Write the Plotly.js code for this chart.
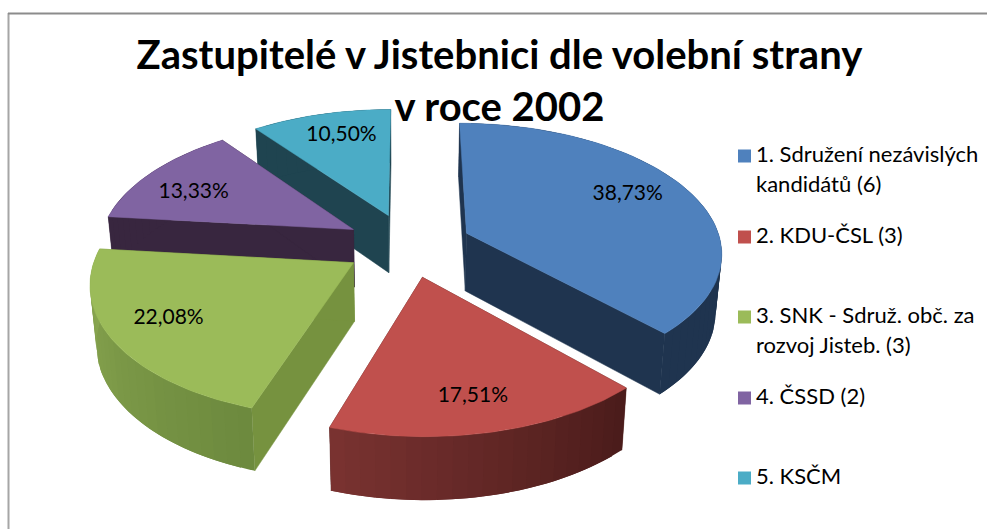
<!DOCTYPE html>
<html>
<head>
<meta charset="utf-8">
<script src="https://cdn.plot.ly/plotly-3.0.1.min.js"></script>
<style>html,body{margin:0;padding:0;background:#fff}#chart{width:987px;height:529px}</style>
</head>
<body>
<div id="chart"></div>
<script>
// ---------- data ----------
const titleLine1 = "Zastupitelé v Jistebnici dle volební strany";
const titleLine2 = "v roce 2002";
const shares = [38.73, 17.51, 22.08, 13.33, 10.50];
const valueLabels = ["38,73%", "17,51%", "22,08%", "13,33%", "10,50%"];
const legendLines = [
  ["1. Sdružení nezávislých", "kandidátů (6)"],
  ["2. KDU-ČSL (3)"],
  ["3. SNK - Sdruž. obč. za", "rozvoj Jisteb. (3)"],
  ["4. ČSSD (2)"],
  ["5. KSČM"]
];
const topColors = ["#4f81bd", "#c0504d", "#9bbb59", "#8064a2", "#4bacc6"];
const sideColors = ["#1f344f", "#4f201f", "#76923f", "#38263f", "#1f4450"];
const wallStart = ["#1f344f", "#4b1c1b", "#6d8a3e", "#38263f", "#1f4450"];
const wallEnd = ["#1f344f", "#7b3331", "#8ca952", "#38263f", "#1f4450"];

// ---------- projection of the exploded tilted pie ----------
const cx = 408, cy = 245, A = 255, B = 128, persp = 0.136, explode = 0.25;
const wallH = 58, wallShrink = 0.98;
const labelReach = [1.0, 1.08, 1.05, 1.03, 1.0];
const labelNudge = [[5, -7], [0, 7], [-12, 0], [-12, 5], [2, -7]];
const legendRows = [156, 237, 317, 398, 478];
const lineGap = 30;

function project(X, Y, down) {
  const f = 1 / (1 + persp * Y);
  let x = A * X * f, y = -B * Y * f;
  if (down) { x *= wallShrink; y += wallH / (1 + 0.07 * Y); }
  return [cx + x, cy + y];
}
const total = shares.reduce((a, b) => a + b, 0);
const rad = d => d * Math.PI / 180;
let cum = 0;
const slices = shares.map(v => {
  const a0 = cum; cum += v / total * 360;
  return {a0, a1: cum, mid: (a0 + cum) / 2};
});
function rim(s, a, down) {
  const ox = explode * Math.sin(rad(s.mid)), oy = explode * Math.cos(rad(s.mid));
  return project(ox + Math.sin(rad(a)), oy + Math.cos(rad(a)), down);
}
function apex(s, down) {
  return project(explode * Math.sin(rad(s.mid)), explode * Math.cos(rad(s.mid)), down);
}
function hex(c) { return [1, 3, 5].map(i => parseInt(c.substr(i, 2), 16)); }
function mix(a, b, t) {
  const p = hex(a), q = hex(b);
  return "rgb(" + p.map((v, i) => Math.round(v + (q[i] - v) * t)).join(",") + ")";
}
function poly(pts, color, edge) {
  return {
    x: pts.map(p => p[0]).concat([pts[0][0]]),
    y: pts.map(p => p[1]).concat([pts[0][1]]),
    mode: "lines", fill: "toself", fillcolor: color,
    line: {color: color, width: edge, shape: "linear"},
    hoverinfo: "skip", showlegend: false, type: "scatter"
  };
}

const traces = [];
[4, 3, 2, 0, 1].forEach(i => {
  const s = slices[i];
  // radial cut faces
  [s.a0, s.a1].forEach(a => {
    traces.push(poly([apex(s, false), rim(s, a, false), rim(s, a, true), apex(s, true)], sideColors[i], 0.5));
  });
  // outer wall, in overlapping strips to carry the shading
  const step = (s.a1 - s.a0) / Math.ceil((s.a1 - s.a0) / 3);
  for (let a = s.a0; a < s.a1 - 1e-6; a += step) {
    const t = (a - s.a0) / (s.a1 - s.a0);
    const b = Math.min(a + step * 2, s.a1);
    const pts = [];
    for (let c = a; c <= b + 1e-6; c += step / 2) pts.push(rim(s, c, false));
    for (let c = b; c >= a - 1e-6; c -= step / 2) pts.push(rim(s, c, true));
    traces.push(poly(pts, mix(wallStart[i], wallEnd[i], t), 0));
  }
  // top surface
  const top = [apex(s, false)];
  for (let a = s.a0; a <= s.a1 + 1e-6; a += (s.a1 - s.a0) / 60) top.push(rim(s, a, false));
  traces.push(poly(top, topColors[i], 0.5));
});

// value labels
const lab = slices.map((s, i) => {
  const r = labelReach[i] * 0.7 + explode;
  const p = project(r * Math.sin(rad(s.mid)), r * Math.cos(rad(s.mid)), false);
  return [p[0] + labelNudge[i][0], p[1] + labelNudge[i][1]];
});
traces.push({
  type: "scatter", mode: "text", x: lab.map(p => p[0]), y: lab.map(p => p[1]),
  text: valueLabels, textposition: "middle center",
  textfont: {family: "Lato, sans-serif", size: 21, color: "#000"},
  hoverinfo: "skip", showlegend: false
});
// legend swatches and text
traces.push({
  type: "scatter", mode: "markers", x: legendRows.map(() => 744.5), y: legendRows,
  marker: {symbol: "square", size: 13, color: topColors},
  hoverinfo: "skip", showlegend: false
});
const lx = [], ly = [], lt = [];
legendLines.forEach((lines, i) => lines.forEach((t, j) => {
  lx.push(756); ly.push(legendRows[i] + j * lineGap); lt.push(t);
}));
traces.push({
  type: "scatter", mode: "text", x: lx, y: ly, text: lt, textposition: "middle right",
  textfont: {family: "Lato, sans-serif", size: 22, color: "#000"},
  hoverinfo: "skip", showlegend: false
});

const layout = {
  width: 987, height: 529,
  margin: {l: 0, r: 0, t: 0, b: 0},
  paper_bgcolor: "#fff", plot_bgcolor: "#fff",
  showlegend: false,
  xaxis: {range: [0, 987], visible: false, fixedrange: true},
  yaxis: {range: [529, 0], visible: false, fixedrange: true},
  title: {
    text: titleLine1 + "<br>" + titleLine2,
    font: {family: "Lato, sans-serif", size: 40, color: "#000", weight: 700},
    x: 0.506, xanchor: "center", xref: "paper", y: 0.87, yanchor: "top", yref: "container"
  },
  shapes: [
    {type: "line", xref: "x", yref: "y", x0: 8.5, x1: 8.5, y0: 13, y1: 529, line: {color: "#a6a6a6", width: 2}},
    {type: "line", xref: "x", yref: "y", x0: 8, x1: 987, y0: 13.5, y1: 13.5, line: {color: "#8c8c8c", width: 2}}
  ]
};
Plotly.newPlot("chart", traces, layout, {displayModeBar: false, staticPlot: true});
</script>
</body>
</html>
